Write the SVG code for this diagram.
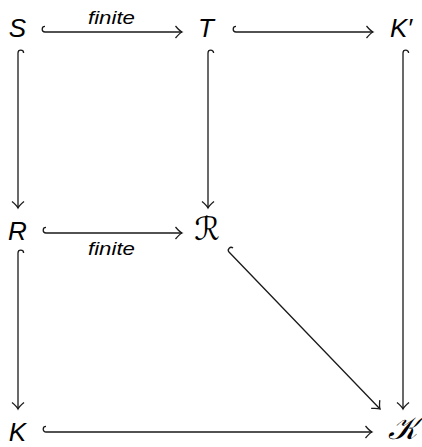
<svg xmlns="http://www.w3.org/2000/svg" width="422" height="447" viewBox="0 0 422 447">
<defs>
<style>
.lbl{font-family:"Liberation Sans",Arial,sans-serif;font-style:italic;font-size:26px;fill:#000}
.scr{font-family:"DejaVu Serif","DejaVu Sans",serif;font-style:italic;font-size:32px;fill:#000}
.edge{font-family:"Liberation Sans",Arial,sans-serif;font-style:italic;font-size:18px;fill:#000}
.ar{fill:none;stroke:#1a1a1a;stroke-width:1.3;marker-end:url(#tip)}
</style>
<marker id="tip" markerUnits="userSpaceOnUse" viewBox="-8 -8 10 16" markerWidth="10" markerHeight="16" refX="0" refY="0" orient="auto">
<path d="M -6.5,-6 Q -2.5,-1.2 0,0 Q -2.5,1.2 -6.5,6" fill="none" stroke="#1a1a1a" stroke-width="1.3"/>
</marker>
</defs>
<rect width="422" height="447" fill="#fff"/>
<g id="connectors">
<path class="ar" d="M 45,26.4 A 2.8,2.8 0 0 0 45,32 L 182,32"/>
<path class="ar" d="M 236,26.4 A 2.8,2.8 0 0 0 236,32 L 373,32"/>
<path class="ar" d="M 46,227.4 A 2.8,2.8 0 0 0 46,233 L 182,233"/>
<path class="ar" d="M 46,426.4 A 2.8,2.8 0 0 0 46,432 L 372,432"/>
<path class="ar" d="M 23.6,53 A 2.8,2.8 0 0 0 18,53 L 18,208"/>
<path class="ar" d="M 213.6,53 A 2.8,2.8 0 0 0 208,53 L 208,208"/>
<path class="ar" d="M 408.6,53 A 2.8,2.8 0 0 0 403,53 L 403,409"/>
<path class="ar" d="M 23.6,253 A 2.8,2.8 0 0 0 18,253 L 18,409"/>
<path class="ar" d="M 233,248.1 A 2.8,2.8 0 0 0 229,252 L 380,409"/>
<text class="edge" x="88" y="24" textLength="47" lengthAdjust="spacingAndGlyphs">finite</text>
<text class="edge" x="88" y="255" textLength="47" lengthAdjust="spacingAndGlyphs">finite</text>
</g>
<g id="S"><text class="lbl" x="17.5" y="37" text-anchor="middle">S</text></g>
<g id="T"><text class="lbl" x="206" y="37" text-anchor="middle">T</text></g>
<g id="Kp"><text class="lbl" x="401" y="37" text-anchor="middle">K′</text></g>
<g id="R"><text class="lbl" x="17.5" y="240" text-anchor="middle">R</text></g>
<g id="Rs"><text class="scr" x="207" y="240" text-anchor="middle">ℛ</text></g>
<g id="K"><text class="lbl" x="17.5" y="441" text-anchor="middle">K</text></g>
<g id="Ks"><text class="scr" x="403" y="439" text-anchor="middle">𝒦</text></g>
</svg>
